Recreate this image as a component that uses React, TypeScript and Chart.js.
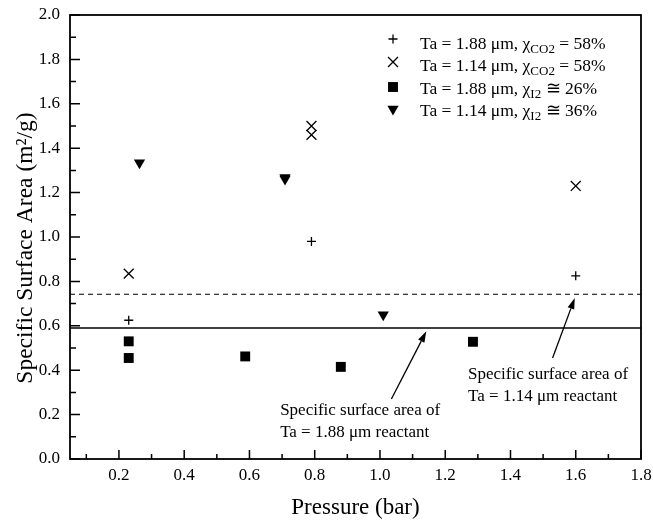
import React, { useEffect, useRef } from "react";
import { Chart, registerables } from "chart.js";
import { drawPoint } from "chart.js/helpers";

Chart.register(...registerables);

// ---- Data ----
const pressPlus188 = [0.23, 0.79, 1.6];
const ssaPlus188 = [0.625, 0.98, 0.825];

const pressX114 = [0.23, 0.79, 0.79, 1.6];
const ssaX114 = [0.835, 1.5, 1.46, 1.23];

const pressSq188 = [0.23, 0.23, 0.587, 0.88, 1.285];
const ssaSq188 = [0.53, 0.455, 0.462, 0.415, 0.528];

const pressTri114 = [0.263, 0.709, 0.709, 1.01];
const ssaTri114 = [1.335, 1.268, 1.261, 0.65];

const refLineX = [0.05, 1.8];
const ref188 = 0.59; // specific surface area, Ta = 1.88 um reactant
const ref114 = 0.742; // specific surface area, Ta = 1.14 um reactant

const xTickValues = [0.2, 0.4, 0.6, 0.8, 1.0, 1.2, 1.4, 1.6, 1.8];
const xMinorValues = [0.1, 0.3, 0.5, 0.7, 0.9, 1.1, 1.3, 1.5, 1.7];
const yTickValues = [0.0, 0.2, 0.4, 0.6, 0.8, 1.0, 1.2, 1.4, 1.6, 1.8, 2.0];
const yMinorValues = [0.1, 0.3, 0.5, 0.7, 0.9, 1.1, 1.3, 1.5, 1.7, 1.9];

const legendPrefix = ["Ta = 1.88 \u03bcm, \u03c7", "Ta = 1.14 \u03bcm, \u03c7", "Ta = 1.88 \u03bcm, \u03c7", "Ta = 1.14 \u03bcm, \u03c7"];
const legendSub = ["CO2", "CO2", "I2", "I2"];
const legendSuffix = [" = 58%", " = 58%", " \u2245 26%", " \u2245 36%"];

const note188Lines = ["Specific surface area of", "Ta = 1.88 \u03bcm reactant"];
const note114Lines = ["Specific surface area of", "Ta = 1.14 \u03bcm reactant"];
// arrow [tailX, tailY, tipX, tipY] and text anchor [x, firstBaselineY] in data units
const arrow188 = [1.035, 0.27, 1.142, 0.575];
const arrow114 = [1.529, 0.455, 1.597, 0.725];
const text188Anchor = [0.694, 0.2];
const text114Anchor = [1.27, 0.36];

const FONT = "'Liberation Serif', 'Times New Roman', serif";

const toPts = (xs: number[], ys: number[]) => xs.map((x, i) => ({ x, y: ys[i] }));

const markerStyles = [
  { pointStyle: "cross", rotation: 0, radius: 4.5, borderWidth: 1.3 },
  { pointStyle: "crossRot", rotation: 0, radius: 7, borderWidth: 1.3 },
  { pointStyle: "rect", rotation: 0, radius: 7, borderWidth: 0 },
  { pointStyle: "triangle", rotation: 180, radius: 6.5, borderWidth: 0 },
];

function drawArrow(ctx: CanvasRenderingContext2D, x0: number, y0: number, x1: number, y1: number) {
  const ang = Math.atan2(y1 - y0, x1 - x0);
  const hl = 11;
  const hw = 3.5;
  const bx = x1 - Math.cos(ang) * hl;
  const by = y1 - Math.sin(ang) * hl;
  ctx.beginPath();
  ctx.moveTo(x0, y0);
  ctx.lineTo(bx, by);
  ctx.lineWidth = 1.3;
  ctx.stroke();
  ctx.beginPath();
  ctx.moveTo(x1, y1);
  ctx.lineTo(bx + Math.sin(ang) * hw, by - Math.cos(ang) * hw);
  ctx.lineTo(bx - Math.sin(ang) * hw, by + Math.cos(ang) * hw);
  ctx.closePath();
  ctx.fill();
}

const customPlugin = {
  id: "customDecor",
  afterDatasetsDraw(chart: any) {
    const { ctx, chartArea: ca } = chart;
    const xs = chart.scales.x;
    const ys = chart.scales.y;
    ctx.save();
    ctx.strokeStyle = "#000";
    ctx.fillStyle = "#000";

    // frame
    ctx.lineWidth = 1.8;
    ctx.strokeRect(ca.left, ca.top, ca.right - ca.left, ca.bottom - ca.top);

    // inward ticks
    ctx.lineWidth = 1.5;
    ctx.beginPath();
    xTickValues.forEach((v) => {
      const px = xs.getPixelForValue(v);
      ctx.moveTo(px, ca.bottom);
      ctx.lineTo(px, ca.bottom - 9);
    });
    xMinorValues.forEach((v) => {
      const px = xs.getPixelForValue(v);
      ctx.moveTo(px, ca.bottom);
      ctx.lineTo(px, ca.bottom - 5);
    });
    yTickValues.forEach((v) => {
      const py = ys.getPixelForValue(v);
      ctx.moveTo(ca.left, py);
      ctx.lineTo(ca.left + 10, py);
    });
    yMinorValues.forEach((v) => {
      const py = ys.getPixelForValue(v);
      ctx.moveTo(ca.left, py);
      ctx.lineTo(ca.left + 6, py);
    });
    ctx.stroke();

    // y axis title
    ctx.save();
    ctx.translate(26, (ca.top + ca.bottom) / 2 + 11);
    ctx.rotate(-Math.PI / 2);
    ctx.font = `23.5px ${FONT}`;
    ctx.textAlign = "center";
    ctx.textBaseline = "middle";
    ctx.fillText("Specific Surface Area (m\u00b2/g)", 0, 0);
    ctx.restore();

    // legend
    const markerX = 393;
    const textX = 420;
    const markerYs = [39, 62, 87, 109];
    const baselines = [49, 71, 94, 116];
    for (let i = 0; i < 4; i++) {
      const m = markerStyles[i];
      ctx.lineWidth = m.borderWidth;
      drawPoint(ctx, { pointStyle: m.pointStyle, rotation: m.rotation, radius: m.radius, borderWidth: m.borderWidth } as any, markerX, markerYs[i]);
      ctx.textAlign = "left";
      ctx.textBaseline = "alphabetic";
      ctx.font = `17.5px ${FONT}`;
      let tx = textX;
      ctx.fillText(legendPrefix[i], tx, baselines[i]);
      tx += ctx.measureText(legendPrefix[i]).width;
      ctx.font = `13px ${FONT}`;
      ctx.fillText(legendSub[i], tx, baselines[i] + 4);
      tx += ctx.measureText(legendSub[i]).width;
      ctx.font = `17.5px ${FONT}`;
      ctx.fillText(legendSuffix[i], tx, baselines[i]);
    }

    // annotations
    ctx.strokeStyle = "#000";
    drawArrow(ctx, xs.getPixelForValue(arrow188[0]), ys.getPixelForValue(arrow188[1]), xs.getPixelForValue(arrow188[2]), ys.getPixelForValue(arrow188[3]));
    drawArrow(ctx, xs.getPixelForValue(arrow114[0]), ys.getPixelForValue(arrow114[1]), xs.getPixelForValue(arrow114[2]), ys.getPixelForValue(arrow114[3]));
    ctx.font = `17px ${FONT}`;
    ctx.textAlign = "left";
    ctx.textBaseline = "alphabetic";
    const t1x = xs.getPixelForValue(text188Anchor[0]);
    const t1y = ys.getPixelForValue(text188Anchor[1]);
    note188Lines.forEach((s, i) => ctx.fillText(s, t1x, t1y + i * 22));
    const t2x = xs.getPixelForValue(text114Anchor[0]);
    const t2y = ys.getPixelForValue(text114Anchor[1]);
    note114Lines.forEach((s, i) => ctx.fillText(s, t2x, t2y + i * 22));

    ctx.restore();
  },
};

export default function App() {
  const canvasRef = useRef<HTMLCanvasElement | null>(null);

  useEffect(() => {
    document.body.style.margin = "0";
    const canvas = canvasRef.current;
    if (!canvas) return;
    const black = "#000";
    const chart = new Chart(canvas, {
      type: "scatter",
      data: {
        datasets: [
          {
            data: toPts(pressPlus188, ssaPlus188),
            pointStyle: "cross",
            pointRadius: 4.5,
            pointBorderWidth: 1.3,
            borderColor: black,
            backgroundColor: black,
          },
          {
            data: toPts(pressX114, ssaX114),
            pointStyle: "crossRot",
            pointRadius: 7,
            pointBorderWidth: 1.3,
            borderColor: black,
            backgroundColor: black,
          },
          {
            data: toPts(pressSq188, ssaSq188),
            pointStyle: "rect",
            pointRadius: 7,
            pointBorderWidth: 0,
            borderColor: black,
            backgroundColor: black,
          },
          {
            data: toPts(pressTri114, ssaTri114),
            pointStyle: "triangle",
            pointRotation: 180,
            pointRadius: 6.5,
            pointBorderWidth: 0,
            borderColor: black,
            backgroundColor: black,
          },
          {
            data: refLineX.map((x) => ({ x, y: ref188 })),
            showLine: true,
            pointRadius: 0,
            borderColor: black,
            borderWidth: 1.5,
          },
          {
            data: refLineX.map((x) => ({ x, y: ref114 })),
            showLine: true,
            pointRadius: 0,
            borderColor: black,
            borderWidth: 1.1,
            borderDash: [5, 4],
          },
        ] as any,
      },
      options: {
        animation: false,
        responsive: false,
        events: [],
        layout: { padding: { top: 15, right: 12, left: 0, bottom: 0 } },
        plugins: { legend: { display: false }, tooltip: { enabled: false } },
        scales: {
          x: {
            type: "linear",
            min: 0.05,
            max: 1.8,
            grid: { display: false, drawTicks: false },
            border: { display: false },
            afterBuildTicks: (scale: any) => {
              scale.ticks = xTickValues.map((v) => ({ value: v }));
            },
            afterFit: (scale: any) => {
              scale.height = 63;
              scale.paddingLeft = 0;
              scale.paddingRight = 0;
            },
            ticks: {
              color: black,
              padding: 6,
              font: { family: FONT, size: 17 },
              maxRotation: 0,
              autoSkip: false,
              callback: (v: any) => Number(v).toFixed(1),
            },
            title: {
              display: true,
              text: "Pressure (bar)",
              color: black,
              font: { family: FONT, size: 23 },
              padding: { top: 0, bottom: 0 },
            },
          },
          y: {
            type: "linear",
            min: 0,
            max: 2.0,
            grid: { display: false, drawTicks: false },
            border: { display: false },
            afterBuildTicks: (scale: any) => {
              scale.ticks = yTickValues.map((v) => ({ value: v }));
            },
            afterFit: (scale: any) => {
              scale.width = 70;
              scale.paddingTop = 0;
              scale.paddingBottom = 0;
            },
            ticks: {
              color: black,
              padding: 10,
              font: { family: FONT, size: 17 },
              autoSkip: false,
              callback: (v: any) => Number(v).toFixed(1),
            },
          },
        },
      } as any,
      plugins: [customPlugin],
    });
    return () => chart.destroy();
  }, []);

  return (
    <div style={{ width: 653, height: 522, background: "#fff" }}>
      <canvas ref={canvasRef} width={653} height={522} style={{ display: "block" }} />
    </div>
  );
}
